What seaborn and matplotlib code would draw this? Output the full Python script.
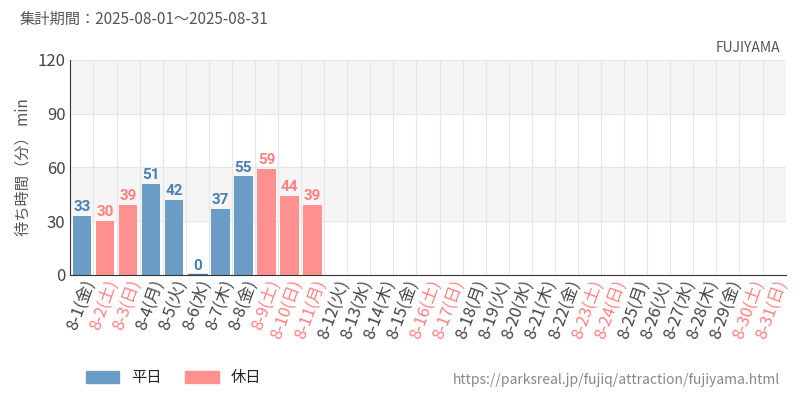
import seaborn as sns
import matplotlib.pyplot as plt
import pandas as pd
from matplotlib.patches import Patch

days = [f"8-{d}" for d in range(1, 32)]
weekdays = ["金", "土", "日", "月", "火", "水", "木"] * 5
weekdays = weekdays[:31]
holidays = [2, 3, 9, 10, 11, 16, 17, 23, 24, 30, 31]
waits = [33, 30, 39, 51, 42, 0, 37, 55, 59, 44, 39] + [None] * 20

labels = [f"{d}({w})" for d, w in zip(days, weekdays)]
kind = ["休日" if i + 1 in holidays else "平日" for i in range(31)]
df = pd.DataFrame({"day": labels, "wait": waits, "kind": kind})

blue = "#6a9cc6"
red = "#ff9090"
blue_txt = "#4a7fb0"
red_txt = "#ff7f7f"

sns.set_style("white")
plt.rcParams["font.family"] = ["Noto Sans CJK JP", "DejaVu Sans"]

fig = plt.figure(figsize=(8, 4), dpi=100)
ax = fig.add_axes([0.088, 0.313, 0.894, 0.537])

ax.axhspan(90, 120, color="#f5f5f5", zorder=0)
ax.axhspan(30, 60, color="#f5f5f5", zorder=0)
for y in [30, 60, 90, 120]:
    ax.axhline(y, color="#e6e6e6", lw=0.8, zorder=0)
for i in range(31):
    ax.axvline(i - 0.5, color="#e6e6e6", lw=0.8, zorder=0)

sns.barplot(data=df, x="day", y="wait", hue="kind", palette={"平日": blue, "休日": red},
            dodge=False, width=0.8, ax=ax, legend=False, zorder=2, saturation=1,
            linewidth=0)
for i, v in enumerate(waits):
    if v is None:
        continue
    c = red_txt if kind[i] == "休日" else blue_txt
    if v == 0:
        ax.plot([i - 0.4, i + 0.4], [0.3, 0.3], color=c, lw=1)
    ax.text(i, v + 1, str(v), ha="center", va="bottom", color=c, fontsize=11,
            family=["Roboto", "DejaVu Sans"], fontweight="bold", fontstretch="condensed")

ax.set_xlim(-0.5, 30.5)
ax.set_ylim(0, 120)
ax.set_yticks([0, 30, 60, 90, 120])
ax.tick_params(axis="y", labelsize=12, colors="#444444", length=0)
ax.tick_params(axis="x", length=0, pad=2)
ax.set_xticks(range(31))
ax.set_xticklabels(labels, rotation=70, ha="right", rotation_mode="anchor", fontsize=12)
for t, k in zip(ax.get_xticklabels(), kind):
    t.set_color(red_txt if k == "休日" else "#444444")
ax.set_xlabel("")
ax.set_ylabel("待ち時間（分） min", fontsize=11, color="#555555")
for s in ["top", "right"]:
    ax.spines[s].set_visible(False)
ax.spines["left"].set_color("#333333")
ax.spines["bottom"].set_color("#333333")

fig.text(0.025, 0.94, "集計期間：2025-08-01～2025-08-31", fontsize=11, color="#555555")
fig.text(0.975, 0.87, "FUJIYAMA", fontsize=10, color="#555555", ha="right")
fig.text(0.975, 0.04, "https://parksreal.jp/fujiq/attraction/fujiyama.html", fontsize=10,
         color="#888888", ha="right")
fig.legend(handles=[Patch(color=blue, label="平日"), Patch(color=red, label="休日")],
           loc="lower left", bbox_to_anchor=(0.09, 0.0), ncol=2, frameon=False,
           fontsize=11, handlelength=2.2, handleheight=0.9, columnspacing=1.5)

plt.savefig("out.png")
